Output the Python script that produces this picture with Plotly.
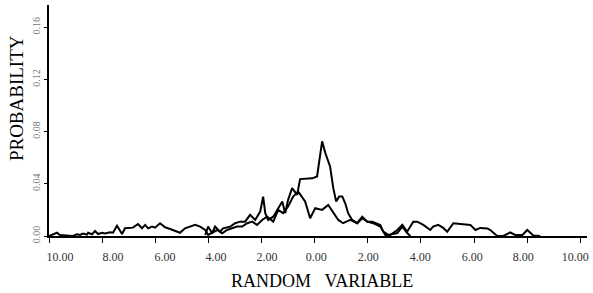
import plotly.graph_objects as go

# Series A: broad distribution
xa = [-10.0, -9.70, -9.59, -9.10, -8.95, -8.83, -8.72, -8.57, -8.53, -8.38, -8.27, -8.15, -8.00,
      -7.89, -7.70, -7.59, -7.44, -7.25, -7.14, -6.95, -6.84, -6.65, -6.50, -6.38, -6.27, -6.12,
      -6.01, -5.82, -5.63, -5.44, -5.25, -5.07, -4.88, -4.69, -4.50, -4.31, -4.12, -4.01, -3.86,
      -3.67, -3.48, -3.30, -3.11, -2.92, -2.73, -2.54, -2.35, -2.17, -1.98, -1.79, -1.56, -1.37,
      -1.19, -1.00, -0.81, -0.62, -0.36, -0.17, 0.02, 0.28, 0.51, 0.70, 0.89, 1.07, 1.34, 1.60,
      1.79, 1.98, 2.20, 2.47, 2.66, 2.84, 3.11, 3.30, 3.48, 3.71, 3.86, 4.09, 4.35, 4.46, 4.65,
      4.84, 4.99, 5.22, 5.59, 5.86, 6.05, 6.23, 6.50, 6.61, 6.87, 7.10, 7.36, 7.55, 7.82, 8.00,
      8.23, 8.49]
ya = [0.0, 0.0025, 0.0008, 0.0, 0.0013, 0.0008, 0.0018, 0.0010, 0.0025, 0.0013, 0.0038, 0.0015, 0.0025,
      0.0020, 0.0028, 0.0025, 0.0079, 0.0015, 0.0059, 0.0059, 0.0064, 0.0092, 0.0059, 0.0085, 0.0059, 0.0072,
      0.0064, 0.0098, 0.0067, 0.0054, 0.0041, 0.0025, 0.0059, 0.0072, 0.0085, 0.0072, 0.0046, 0.0008, 0.0023,
      0.0046, 0.0021, 0.0046, 0.0059, 0.0072, 0.0072, 0.0098, 0.0110, 0.0085, 0.0123, 0.0148, 0.0110, 0.0200,
      0.0175, 0.0226, 0.0302, 0.0340, 0.0264, 0.0136, 0.0213, 0.0200, 0.0238, 0.0175, 0.0123, 0.0098, 0.0123, 0.0098,
      0.0136, 0.0110, 0.0098, 0.0072, 0.0008, 0.0008, 0.0046, 0.0085, 0.0033, 0.0110, 0.0110, 0.0085, 0.0046, 0.0072, 0.0085,
      0.0062, 0.0033, 0.0098, 0.0092, 0.0085, 0.0046, 0.0062, 0.0058, 0.0046, 0.0, 0.0, 0.0027, 0.0008, 0.0008, 0.0046,
      0.0004, 0.0]

# Series B: peaked distribution
xb = [-4.12, -4.01, -3.86, -3.75, -3.56, -3.45, -3.18, -2.99, -2.81, -2.62, -2.43, -2.24, -2.05,
      -1.94, -1.86, -1.75, -1.56, -1.41, -1.22, -1.11, -1.00, -0.85, -0.66, -0.55, -0.36, -0.09,
      0.09, 0.28, 0.40, 0.58, 0.70, 0.81, 0.92, 1.04, 1.15, 1.26, 1.41, 1.60, 1.79, 1.98, 2.17,
      2.35, 2.47, 2.58, 2.77, 3.11, 3.30, 3.48, 3.60]
yb = [0.0008, 0.0072, 0.0021, 0.0072, 0.0033, 0.0059, 0.0072, 0.0098, 0.0110, 0.0110, 0.0162, 0.0123, 0.0187,
      0.0302, 0.0175, 0.0123, 0.0148, 0.0200, 0.0264, 0.0175, 0.0277, 0.0367, 0.0315, 0.0436, 0.0438, 0.0442,
      0.0456, 0.0725, 0.0636, 0.0533, 0.0367, 0.0264, 0.0302, 0.0302, 0.0251, 0.0175, 0.0123, 0.0098, 0.0148, 0.0110, 0.0110,
      0.0098, 0.0085, 0.0033, 0.0008, 0.0023, 0.0072, 0.0023, 0.0]

# tick marks, and the (slightly offset) printed tick labels
x_tickvals = [-10, -8, -6, -4, -2, 0, 2, 4, 6, 8, 10]
x_labelvals = [-9.59, -7.59, -5.63, -3.71, -1.79, 0.06, 2.02, 3.97, 5.93, 7.85, 9.81]
x_ticktext = ["10.00", "8.00", "6.00", "4.00", "2.00", "0.00", "2.00", "4.00", "6.00", "8.00", "10.00"]
y_tickvals = [0.0, 0.04, 0.08, 0.12, 0.16]
y_ticktext = ["0.00", "0.04", "0.08", "0.12", "0.16"]

serif = "Liberation Serif, DejaVu Serif, serif"
x_range = [-10, 10.25]

fig = go.Figure()
fig.add_trace(go.Scatter(x=xa, y=ya, mode="lines", line=dict(color="black", width=2), showlegend=False))
fig.add_trace(go.Scatter(x=xb, y=yb, mode="lines", line=dict(color="black", width=2), showlegend=False))

fig.update_layout(
    width=593, height=293,
    margin=dict(l=49, r=6, t=5, b=57, autoexpand=False),
    paper_bgcolor="white", plot_bgcolor="white",
    font=dict(family=serif, color="black"),
    xaxis=dict(range=x_range, tickvals=x_tickvals, showticklabels=False, automargin=False,
               showgrid=False, zeroline=False, showline=True, linecolor="black", linewidth=1.5,
               ticks="outside", ticklen=5, tickcolor="black", tickwidth=1),
    xaxis2=dict(range=x_range, overlaying="x", anchor="y", side="bottom", automargin=False,
                tickvals=x_labelvals, ticktext=x_ticktext, ticks="", showline=False,
                showgrid=False, zeroline=False, ticklabelstandoff=12, ticklabeloverflow="allow",
                tickfont=dict(family=serif, size=12, color="#333")),
    yaxis=dict(range=[0, 0.177], tickvals=y_tickvals, ticktext=y_ticktext, automargin=False,
               showgrid=False, zeroline=False, showline=True, linecolor="black", linewidth=1.5,
               ticks="outside", ticklen=3, tickcolor="black", tickwidth=1, tickangle=-90,
               tickfont=dict(family=serif, size=10, color="#777")),
    annotations=[
        dict(text="RANDOM\u00a0\u00a0\u00a0VARIABLE", xref="paper", yref="paper", x=0.507, y=-0.195,
             xanchor="center", yanchor="middle", showarrow=False,
             font=dict(family=serif, size=18, color="black")),
        dict(text="PROBABILITY", xref="paper", yref="paper", x=-0.0613, y=0.597,
             xanchor="center", yanchor="middle", showarrow=False, textangle=-90,
             font=dict(family=serif, size=19, color="black")),
    ],
)
# invisible helper so the label axis is drawn
fig.add_trace(go.Scatter(x=[x_range[0]], y=[0], xaxis="x2", mode="markers",
                         marker=dict(opacity=0), showlegend=False, hoverinfo="skip"))

fig.write_html("out.html", config={"displayModeBar": False},
               post_script="document.body.style.margin='0px';")
